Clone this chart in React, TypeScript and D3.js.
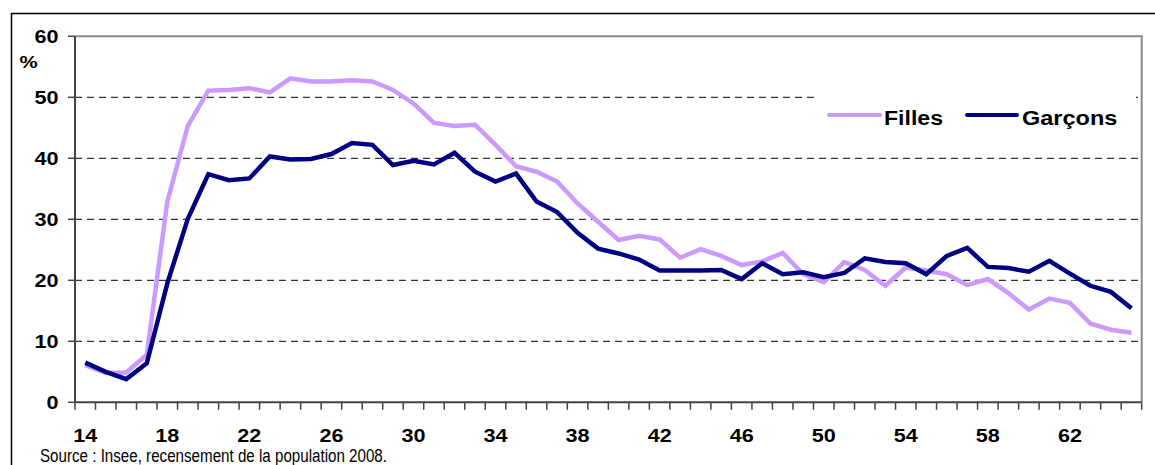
import React from "react";
import * as d3 from "d3";

const ages: number[] = d3.range(14, 66);
const filles: number[] = [
  6.1, 4.8, 4.9, 7.8, 32.9, 45.3, 51.1, 51.2, 51.5, 50.8,
  53.1, 52.6, 52.6, 52.8, 52.6, 51.2, 49.0, 45.8, 45.3, 45.5,
  42.2, 38.7, 37.8, 36.2, 32.6, 29.6, 26.6, 27.3, 26.7, 23.7,
  25.1, 24.0, 22.5, 23.1, 24.5, 21.0, 19.7, 23.0, 21.7, 19.1,
  22.1, 21.6, 21.0, 19.2, 20.2, 17.9, 15.2, 17.0, 16.3, 12.9,
  11.9, 11.4,
];
const garcons: number[] = [
  6.5, 5.0, 3.8, 6.4, 19.5, 30.1, 37.4, 36.4, 36.7, 40.3,
  39.8, 39.9, 40.7, 42.5, 42.2, 38.9, 39.6, 39.0, 40.9, 37.8,
  36.2, 37.5, 32.9, 31.2, 27.8, 25.2, 24.4, 23.4, 21.6, 21.6,
  21.6, 21.7, 20.2, 22.8, 21.0, 21.3, 20.5, 21.2, 23.6, 23.0,
  22.8, 21.0, 24.0, 25.3, 22.2, 22.0, 21.4, 23.2, 21.1, 19.1,
  18.1, 15.4,
];
const xTickLabels: number[] = [14, 18, 22, 26, 30, 34, 38, 42, 46, 50, 54, 58, 62];
const yTicks: number[] = [0, 10, 20, 30, 40, 50, 60];
const seriesNames = ["Filles", "Garçons"];
const source = "Source : Insee, recensement de la population 2008.";

const FONT = "'Liberation Sans', Arial, sans-serif";
const COL_F = "#CC99FF";
const COL_G = "#000080";

export default function App() {
  const left = 75, right = 1141.7, top = 36.3, bottom = 402.3;
  const x = d3.scaleBand<number>().domain(ages).range([left, right]);
  const y = d3.scaleLinear().domain([0, 60]).range([bottom, top]);
  const cx = (a: number) => (x(a) as number) + x.bandwidth() / 2;
  const line = d3
    .line<number>()
    .x((_, i) => cx(ages[i]))
    .y((v) => y(v));

  const boundaries = ages.map((a) => x(a) as number).concat([right]);

  return (
    <svg
      width={1155}
      height={465}
      style={{ position: "absolute", left: 0, top: 0, background: "#fff" }}
    >
      {/* outer frame */}
      <line x1={11} y1={13.5} x2={1155} y2={13.5} stroke="#000" strokeWidth={1.5} />
      <line x1={11.5} y1={13} x2={11.5} y2={465} stroke="#000" strokeWidth={1.5} />

      {/* gridlines */}
      {yTicks.filter((t) => t > 0 && t < 60).map((t) => (
        <line
          key={t}
          x1={left}
          x2={right}
          y1={y(t)}
          y2={y(t)}
          stroke="#000"
          strokeWidth={1}
          strokeDasharray="7,5"
        />
      ))}

      {/* plot border top/right */}
      <line x1={left} x2={right + 1} y1={top} y2={top} stroke="#888" strokeWidth={2} />
      <line x1={right} x2={right} y1={top} y2={bottom} stroke="#888" strokeWidth={2} />

      {/* y axis */}
      <line x1={left} x2={left} y1={top} y2={bottom} stroke="#444" strokeWidth={2} />
      {yTicks.map((t) => (
        <g key={t}>
          <line x1={68} x2={left} y1={y(t)} y2={y(t)} stroke="#444" strokeWidth={1.5} />
          <text
            transform={`translate(58.5,${y(t) + 6.5}) scale(1.2,1)`}
            textAnchor="end"
            fontFamily={FONT}
            fontWeight="bold"
            fontSize={18}
            fill="#000"
          >
            {t}
          </text>
        </g>
      ))}
      <text
        transform={`translate(19.5,68) scale(1.2,1)`}
        fontFamily={FONT}
        fontWeight="bold"
        fontSize={17}
        fill="#000"
      >
        %
      </text>

      {/* x axis */}
      <line x1={left} x2={right} y1={bottom} y2={bottom} stroke="#444" strokeWidth={2} />
      {boundaries.map((b, i) => (
        <line key={i} x1={b} x2={b} y1={bottom} y2={bottom + 7.5} stroke="#444" strokeWidth={1.5} />
      ))}
      {xTickLabels.map((a) => (
        <text
          key={a}
          transform={`translate(${cx(a)},441.5) scale(1.2,1)`}
          textAnchor="middle"
          fontFamily={FONT}
          fontWeight="bold"
          fontSize={18}
          fill="#000"
        >
          {a}
        </text>
      ))}

      {/* legend background */}
      <rect x={817} y={86} width={319} height={60} fill="#fff" />

      {/* series */}
      <path d={line(filles) || ""} fill="none" stroke={COL_F} strokeWidth={4.5} />
      <path d={line(garcons) || ""} fill="none" stroke={COL_G} strokeWidth={4.5} />

      {/* legend */}
      <line x1={829} x2={880} y1={115} y2={115} stroke={COL_F} strokeWidth={4} strokeLinecap="round" />
      <text
        transform="translate(884,125) scale(1.1,1)"
        fontFamily={FONT}
        fontWeight="bold"
        fontSize={21}
        fill="#000"
      >
        {seriesNames[0]}
      </text>
      <line x1={967} x2={1017} y1={115} y2={115} stroke={COL_G} strokeWidth={4} strokeLinecap="round" />
      <text
        transform="translate(1022,125) scale(1.12,1)"
        fontFamily={FONT}
        fontWeight="bold"
        fontSize={21}
        fill="#000"
      >
        {seriesNames[1]}
      </text>

      {/* source */}
      <text
        x={40}
        y={462}
        fontFamily={FONT}
        fontSize={18}
        textLength={347}
        lengthAdjust="spacingAndGlyphs"
        fill="#000"
      >
        {source}
      </text>
    </svg>
  );
}
